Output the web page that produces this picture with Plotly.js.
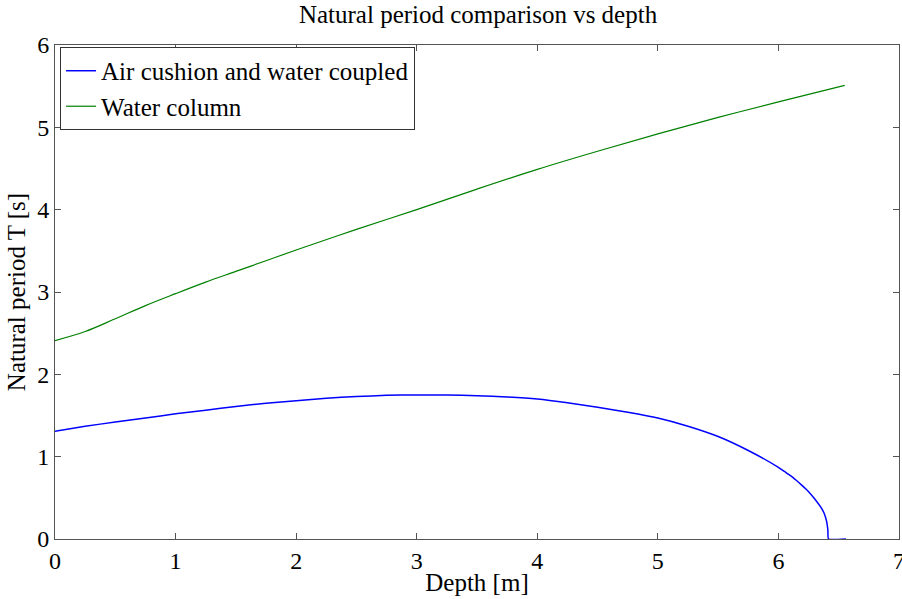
<!DOCTYPE html>
<html><head><meta charset="utf-8">
<script src="https://cdn.plot.ly/plotly-3.0.1.min.js"></script>
<style>body{margin:0;background:#fff}#chart{width:902px;height:599px}</style>
</head><body><div id="chart"></div>
<script>
const coupledDepth = [0, 0.25, 0.5, 0.75, 1, 1.25, 1.5, 1.75, 2, 2.25, 2.5, 2.75, 3, 3.25, 3.5, 3.75, 4, 4.25, 4.5, 4.75, 5, 5.25, 5.5, 5.75, 6, 6.05, 6.1, 6.15, 6.2, 6.25, 6.3, 6.35, 6.38, 6.4, 6.41, 6.415, 6.56];
const coupledT = [1.31, 1.37, 1.42, 1.47, 1.52, 1.565, 1.61, 1.65, 1.68, 1.71, 1.73, 1.745, 1.75, 1.75, 1.74, 1.725, 1.70, 1.655, 1.60, 1.54, 1.47, 1.37, 1.245, 1.075, 0.87, 0.82, 0.77, 0.71, 0.645, 0.575, 0.49, 0.39, 0.31, 0.21, 0.11, 0, 0];
const columnDepth = [0, 0.25, 0.5, 0.75, 1, 1.25, 1.5, 1.75, 2, 2.5, 3, 3.5, 4, 4.5, 5, 5.5, 6, 6.55];
const columnT = [2.41, 2.52, 2.675, 2.835, 2.98, 3.12, 3.25, 3.38, 3.51, 3.76, 4.00, 4.25, 4.49, 4.71, 4.92, 5.12, 5.31, 5.51];

const font = '"Liberation Serif", "Times New Roman", Times, serif';
const traces = [
  {x: coupledDepth, y: coupledT, type: 'scatter', mode: 'lines', name: 'Air cushion and water coupled', line: {color: '#0000ff', width: 1.5, shape: 'spline', smoothing: 0.4}},
  {x: columnDepth, y: columnT, type: 'scatter', mode: 'lines', name: 'Water column', line: {color: '#008000', width: 1.2, shape: 'spline', smoothing: 1}}
];
const axisCommon = {showgrid: false, zeroline: false, showline: true, linecolor: '#555', linewidth: 1, mirror: 'ticks', ticks: 'inside', ticklen: 6, tickcolor: '#555', ticklabeloverflow: 'allow', tickfont: {family: font, size: 24, color: '#000'}};
const layout = {
  width: 902, height: 599,
  margin: {l: 55, r: 3, t: 45, b: 60},
  paper_bgcolor: '#fff', plot_bgcolor: '#fff',
  font: {family: font, color: '#000'},
  title: {text: 'Natural period comparison vs depth', font: {family: font, size: 25, color: '#000'}, x: 0.53, xanchor: 'center', y: 0.99, yanchor: 'top'},
  xaxis: Object.assign({}, axisCommon, {range: [0, 7], tickvals: [0, 1, 2, 3, 4, 5, 6, 7], title: {text: 'Depth [m]', font: {family: font, size: 25}, standoff: 0}}),
  yaxis: Object.assign({}, axisCommon, {range: [0, 6], tickvals: [0, 1, 2, 3, 4, 5, 6], title: {text: 'Natural period T [s]', font: {family: font, size: 25}, standoff: 4}}),
  showlegend: true,
  legend: {x: 0.006, y: 0.996, xanchor: 'left', yanchor: 'top', bgcolor: '#fff', bordercolor: '#333', borderwidth: 1, font: {family: font, size: 25, color: '#000'}, tracegroupgap: 0, itemwidth: 30}
};
Plotly.newPlot('chart', traces, layout, {displayModeBar: false, staticPlot: true});
</script></body></html>
